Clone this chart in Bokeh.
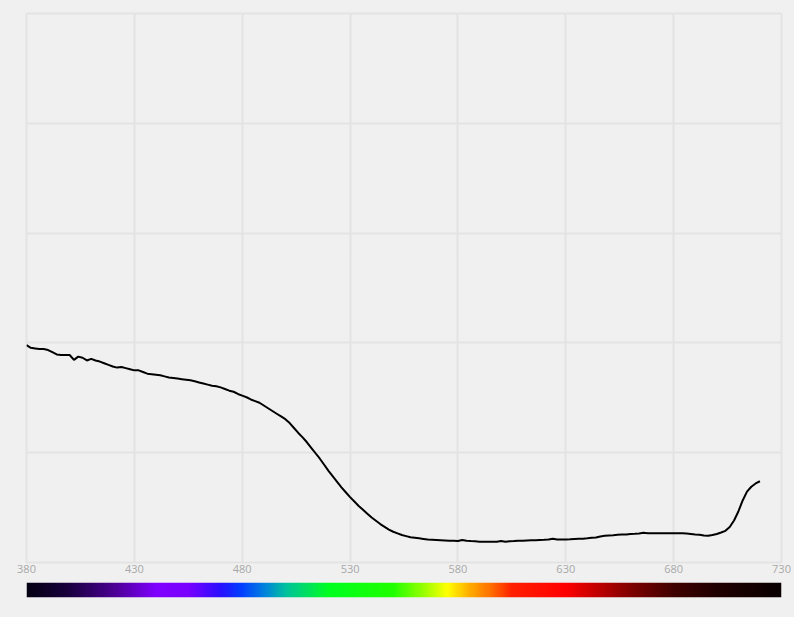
import numpy as np
from bokeh.plotting import figure
from bokeh.layouts import column
from bokeh.models import Range1d, FixedTicker
from bokeh.embed import file_html
from bokeh.resources import INLINE

# ---- data ----
wavelengths = list(range(380, 721, 2))
reflectance = [
    0.396, 0.391, 0.390, 0.389, 0.389, 0.387, 0.383, 0.379, 0.378, 0.378,  # 380-398
    0.378, 0.369, 0.375, 0.373, 0.368, 0.371, 0.368, 0.366, 0.363, 0.360,  # 400-418
    0.357, 0.355, 0.356, 0.354, 0.352, 0.350, 0.350, 0.347, 0.344, 0.343,  # 420-438
    0.342, 0.341, 0.339, 0.337, 0.336, 0.335, 0.334, 0.333, 0.332, 0.330,  # 440-458
    0.328, 0.326, 0.324, 0.322, 0.321, 0.319, 0.316, 0.313, 0.311, 0.307,  # 460-478
    0.304, 0.301, 0.297, 0.294, 0.291, 0.286, 0.281, 0.276, 0.271, 0.266,  # 480-498
    0.261, 0.254, 0.245, 0.236, 0.228, 0.219, 0.209, 0.199, 0.189, 0.178,  # 500-518
    0.167, 0.157, 0.147, 0.137, 0.128, 0.119, 0.111, 0.103, 0.096, 0.089,  # 520-538
    0.082, 0.076, 0.070, 0.065, 0.060, 0.056, 0.053, 0.050, 0.048, 0.046,  # 540-558
    0.045, 0.044, 0.043, 0.042, 0.0415, 0.041, 0.0405, 0.040, 0.0395, 0.0395,  # 560-578
    0.039, 0.041, 0.0395, 0.039, 0.0386, 0.038, 0.038, 0.038, 0.038, 0.0377,  # 580-598
    0.039, 0.0377, 0.0388, 0.039, 0.0395, 0.0395, 0.040, 0.0404, 0.0406, 0.041,  # 600-618
    0.0413, 0.0419, 0.0432, 0.0419, 0.0419, 0.0419, 0.0423, 0.043, 0.0432, 0.0434,  # 620-638
    0.0441, 0.045, 0.0455, 0.0474, 0.0486, 0.0492, 0.0497, 0.0505, 0.051, 0.051,  # 640-658
    0.0519, 0.0523, 0.0528, 0.0541, 0.0532, 0.0534, 0.0534, 0.0534, 0.0534, 0.0534,  # 660-678
    0.0534, 0.0534, 0.0532, 0.0528, 0.0519, 0.051, 0.0505, 0.0492, 0.0486, 0.050,  # 680-698
    0.0519, 0.0546, 0.0577, 0.0647, 0.0765, 0.0929, 0.113, 0.129, 0.138, 0.144,  # 700-718
    0.148,  # 720
]
n = min(len(wavelengths), len(reflectance))
wavelengths = wavelengths[:n]
reflectance = reflectance[:n]

x_ticks = [380, 430, 480, 530, 580, 630, 680, 730]
y_grid = [0.0, 0.2, 0.4, 0.6, 0.8, 1.0]

# spectrum strip colour stops (wavelength, hex colour)
spec_nm = [380, 400, 420, 440, 455, 470, 480, 490, 500, 510, 520, 550, 565, 575,
           585, 595, 605, 630, 645, 660, 680, 700, 730]
spec_col = ["#050012", "#1a0040", "#4a0090", "#8000ff", "#7a00ff", "#2a10ff", "#0040ff",
            "#0080e0", "#00c0a0", "#00e060", "#00ff20", "#20ff00", "#a0ff00", "#ffff00",
            "#ffb000", "#ff7000", "#ff2000", "#ff0000", "#c00000", "#800000", "#400000",
            "#200000", "#0a0000"]

BG = "#f0f0f0"
GRID = "#e3e3e3"

p = figure(frame_width=755, frame_height=549, output_backend="svg", toolbar_location=None,
           x_range=Range1d(380, 730), y_range=Range1d(0, 1),
           min_border_left=26, min_border_right=13, min_border_top=13, min_border_bottom=20,
           background_fill_color=BG, border_fill_color=BG, outline_line_color=GRID,
           outline_line_width=2)
p.line(wavelengths, reflectance, line_color="black", line_width=2)

p.xaxis.ticker = FixedTicker(ticks=x_ticks)
p.xaxis.axis_line_color = None
p.xaxis.major_tick_line_color = None
p.xaxis.minor_tick_line_color = None
p.xaxis.major_tick_out = 0
p.xaxis.major_tick_in = 0
p.xaxis.minor_tick_out = 0
p.xaxis.minor_tick_in = 0
p.xaxis.major_label_text_color = "#a8a8a8"
p.xaxis.major_label_text_font = "Open Sans"
p.xaxis.major_label_text_font_size = "11px"
p.xaxis.major_label_standoff = 2
p.yaxis.visible = False
p.xgrid.ticker = FixedTicker(ticks=x_ticks)
p.ygrid.ticker = FixedTicker(ticks=y_grid)
p.grid.grid_line_color = GRID
p.grid.grid_line_width = 2

# spectrum strip
def hex2rgb(h):
    return [int(h[i:i + 2], 16) for i in (1, 3, 5)]

cols = np.array([hex2rgb(c) for c in spec_col], dtype=float)
xs = np.arange(380, 730, 0.5) + 0.25
rgb = np.stack([np.interp(xs, spec_nm, cols[:, k]) for k in range(3)], axis=1)
img = np.zeros((1, len(xs)), dtype=np.uint32)
view = img.view(dtype=np.uint8).reshape((1, len(xs), 4))
view[0, :, 0] = rgb[:, 0].astype(np.uint8)
view[0, :, 1] = rgb[:, 1].astype(np.uint8)
view[0, :, 2] = rgb[:, 2].astype(np.uint8)
view[0, :, 3] = 255

s = figure(frame_width=755, frame_height=15, output_backend="svg", toolbar_location=None,
           x_range=Range1d(380, 730), y_range=Range1d(0, 1),
           min_border_left=26, min_border_right=13, min_border_top=0, min_border_bottom=20,
           background_fill_color=BG, border_fill_color=BG, outline_line_color=None)
s.image_rgba(image=[img], x=380, y=0, dw=350, dh=1)
s.axis.visible = False
s.grid.visible = False

layout = column(p, s, spacing=0, styles={"background-color": BG})
open("out.html", "w").write(file_html(layout, INLINE))
